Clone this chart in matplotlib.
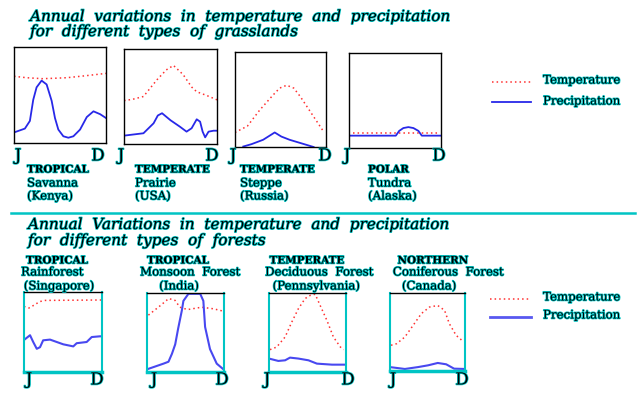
import matplotlib
matplotlib.use("Agg")
import matplotlib.pyplot as plt
import matplotlib.patheffects as pe

# ---- data (month position, % of box height) ----
savanna_temp_m = [1, 2.5, 4.4, 6, 7.3, 9.5, 12]
savanna_temp_v = [69.5, 68, 67, 67.5, 68, 70, 72.5]
savanna_rain_m = [1, 2.3, 2.9, 3.3, 3.7, 4.3, 4.9, 5.5, 5.9, 6.3, 6.9, 7.5, 8.1, 8.9, 9.7, 10.5, 11.3, 12]
savanna_rain_v = [11, 15, 23, 45, 58, 65, 61, 44, 26, 14, 7, 5.5, 7, 14, 27, 33, 30, 26]

prairie_temp_m = [1, 2, 3.3, 4.9, 6, 6.85, 8.0, 9.0, 9.6, 10.8, 12]
prairie_temp_v = [45.7, 47, 50, 67.6, 78, 82.7, 73, 60, 55, 51, 46.5]
prairie_rain_m = [1, 3.3, 4.5, 5.0, 5.5, 6.5, 7.6, 8.4, 9.0, 9.6, 10.0, 10.3, 10.6, 11.0, 11.6, 12]
prairie_rain_v = [8.8, 11.3, 21.8, 30, 32.4, 25, 18.3, 13, 16.6, 26, 23.5, 13, 7, 13, 14, 14]

steppe_temp_m = [1, 2.5, 4.0, 5.6, 6.4, 7.25, 8.1, 8.9, 10.5, 11.7]
steppe_temp_v = [15.3, 22, 39, 54.7, 62, 65, 62, 53, 32, 16.3]
steppe_rain_m = [2, 3, 4.4, 5.8, 6.6, 7.6, 10.5]
steppe_rain_v = [0.5, 3, 7.6, 15.3, 11, 7.6, 0]

tundra_temp_m = [1.5, 3, 5, 7, 9, 11.6]
tundra_temp_v = [16, 16, 16, 16, 16, 16]
tundra_rain_m = [1, 6.6, 7.0, 7.5, 8.1, 8.7, 9.3, 9.7, 12]
tundra_rain_v = [13, 13, 18, 21, 22, 21, 18, 13, 13]

rainforest_temp_m = [1, 1.7, 2.5, 3.2, 4, 12]
rainforest_temp_v = [82, 80, 84, 88, 89.5, 90]
rainforest_rain_m = [1, 1.85, 2.3, 2.8, 3.26, 3.7, 4.67, 6.54, 7.95, 8.43, 9.84, 10.55, 11.7, 12]
rainforest_rain_v = [40, 46, 37.5, 29, 31, 39.6, 40.5, 34.6, 32, 36, 37.5, 43.7, 44.6, 44.6]

monsoon_temp_m = [1.2, 2.9, 4.1, 5.0, 5.7, 6.8, 8.8, 10.5, 11.9]
monsoon_temp_v = [72, 84, 93, 90.7, 82, 79, 82, 80, 77]
monsoon_rain_m = [1.2, 3.36, 4.07, 4.56, 5.03, 5.45, 5.98, 6.2, 6.92, 8.6, 9.05, 9.3, 10.0, 10.96, 11.9]
monsoon_rain_v = [4, 10.6, 13, 23, 35, 55, 78, 90, 99, 99, 90, 57, 29, 10.6, 3.5]

deciduous_temp_m = [1.14, 2.1, 3.3, 4.26, 5.2, 6.16, 6.9, 7.6, 8.3, 9.27, 10.2, 11.2, 11.66]
deciduous_temp_v = [28.3, 31.6, 44.3, 63.3, 80.2, 93, 97, 98.4, 84.4, 65.4, 44.3, 31.6, 28.3]
deciduous_rain_m = [1, 2.33, 3.3, 4.0, 5.2, 6.64, 7.84, 10.0, 12]
deciduous_rain_v = [17, 14, 14.8, 18.2, 17, 14.8, 10.6, 9.3, 9.3]

coniferous_temp_m = [1.15, 1.97, 3.18, 4.39, 5.6, 6.8, 8.0, 9.0, 9.7, 10.7, 11.65]
coniferous_temp_v = [33, 35, 43.6, 58.5, 73.6, 82, 84, 77.8, 60.7, 45.7, 38.5]
coniferous_rain_m = [1, 3.18, 5.1, 6.6, 8.0, 9.24, 10.4, 12]
coniferous_rain_v = [5, 2.6, 5, 7.3, 10.3, 8.6, 3, 2.6]

grass_labels = [("TROPICAL", "Savanna", "(Kenya)"),
                ("TEMPERATE", "Prairie", "(USA)"),
                ("TEMPERATE", "Steppe", "(Russia)"),
                ("POLAR", "Tundra", "(Alaska)")]
forest_labels = [("TROPICAL", "Rainforest", "(Singapore)"),
                 ("TROPICAL", "Monsoon  Forest", "(India)"),
                 ("TEMPERATE", "Deciduous  Forest", "(Pennsylvania)"),
                 ("NORTHERN", "Coniferous  Forest", "(Canada)")]

W, H = 640, 395
CYAN = "#00c4c4"
RED = "#ff3030"
BLUE = "#2828e8"
glow = [pe.withStroke(linewidth=1.1, foreground=CYAN)]

fig = plt.figure(figsize=(6.4, 3.95), dpi=100)
fig.patch.set_facecolor("white")


def px_text(x, y, s, **kw):
    kw.setdefault("color", "black")
    kw.setdefault("path_effects", glow)
    fig.text(x / W, 1 - y / H, s, va="center", **kw)


def panel(box, tm, tv, rm, rv, blue=BLUE, lw=1.3, lower=False):
    x0, y0, x1, y1 = box
    ax = fig.add_axes([x0 / W, 1 - y1 / H, (x1 - x0) / W, (y1 - y0) / H])
    ax.plot(tm, tv, color=RED, lw=1.1, ls=(0, (1, 2)))
    ax.plot(rm, rv, color=blue, lw=lw)
    ax.set_xlim(1, 12)
    ax.set_ylim(0, 100)
    ax.set_xticks([])
    ax.set_yticks([])
    for s in ax.spines.values():
        s.set_color("black")
        s.set_linewidth(1)
    if lower:
        ax.spines["bottom"].set_color(CYAN)
        ax.spines["bottom"].set_linewidth(2.5)
        ax.spines["left"].set_color(CYAN)
        ax.spines["right"].set_color(CYAN)
        ax.spines["left"].set_linewidth(1.5)
        ax.spines["right"].set_linewidth(1.5)
    return ax


# ---- grasslands ----
tfont = dict(family="DejaVu Serif", style="italic", fontsize=11)
px_text(30, 17, "Annual  variations  in  temperature  and  precipitation", **tfont)
px_text(30, 32, "for  different  types  of  grasslands", **tfont)

upper = [(14, 47, 106, 143), (124, 49, 217, 144), (235, 52, 326, 147), (349, 53, 441, 148)]
upper_data = [(savanna_temp_m, savanna_temp_v, savanna_rain_m, savanna_rain_v),
              (prairie_temp_m, prairie_temp_v, prairie_rain_m, prairie_rain_v),
              (steppe_temp_m, steppe_temp_v, steppe_rain_m, steppe_rain_v),
              (tundra_temp_m, tundra_temp_v, tundra_rain_m, tundra_rain_v)]
jd_x = [(18, 98), (121, 212), (233, 325), (347, 439)]
lab_x = [27, 135, 240, 368]
for box, d, (jx, dx), lx, lab in zip(upper, upper_data, jd_x, lab_x, grass_labels):
    panel(box, *d)
    px_text(jx, 156, "J", family="DejaVu Serif", fontsize=12, ha="center")
    px_text(dx, 156, "D", family="DejaVu Serif", fontsize=12, ha="center")
    px_text(lx, 170, lab[0], family="DejaVu Serif", fontsize=7.5, weight="bold", ha="left")
    px_text(lx, 183, lab[1], family="DejaVu Serif", fontsize=8.5, ha="left")
    px_text(lx, 196, lab[2], family="DejaVu Serif", fontsize=8.5, ha="left")

# legend (upper)
fig.add_artist(plt.Line2D([492 / W, 531 / W], [1 - 82 / H] * 2, color=RED, lw=1.1, ls=(0, (1, 2))))
fig.add_artist(plt.Line2D([492 / W, 531 / W], [1 - 102 / H] * 2, color=BLUE, lw=1.3))
px_text(543, 80, "Temperature", family="DejaVu Serif", fontsize=8.5)
px_text(543, 101, "Precipitation", family="DejaVu Serif", fontsize=8.5)

# separator
fig.add_artist(plt.Line2D([11 / W, 635 / W], [1 - 212.5 / H] * 2, color=CYAN, lw=1.8))

# ---- forests ----
px_text(28, 225, "Annual  Variations  in  temperature  and  precipitation", **tfont)
px_text(28, 241, "for  different  types  of  forests", **tfont)

lower = [(24, 292, 102, 372), (147, 293, 224, 372), (269, 293, 346, 372), (390, 293, 465, 371)]
lower_data = [(rainforest_temp_m, rainforest_temp_v, rainforest_rain_m, rainforest_rain_v),
              (monsoon_temp_m, monsoon_temp_v, monsoon_rain_m, monsoon_rain_v),
              (deciduous_temp_m, deciduous_temp_v, deciduous_rain_m, deciduous_rain_v),
              (coniferous_temp_m, coniferous_temp_v, coniferous_rain_m, coniferous_rain_v)]
jd_x2 = [(29, 97), (154, 222), (267, 348), (393, 462)]
cx = [(57, 52, 59), (178, 190, 179), (307, 319, 316), (433, 448, 429)]
for box, d, (jx, dx), c, lab in zip(lower, lower_data, jd_x2, cx, forest_labels):
    panel(box, *d, blue="#4848f0", lw=1.5, lower=True)
    px_text(jx, 380, "J", family="DejaVu Serif", fontsize=12, ha="center")
    px_text(dx, 380, "D", family="DejaVu Serif", fontsize=12, ha="center")
    px_text(c[0], 261, lab[0], family="DejaVu Serif", fontsize=7.5, weight="bold", ha="center")
    px_text(c[1], 272, lab[1], family="DejaVu Serif", fontsize=8.5, ha="center")
    px_text(c[2], 286, lab[2], family="DejaVu Serif", fontsize=8.5, ha="center")

# legend (lower)
fig.add_artist(plt.Line2D([490 / W, 531 / W], [1 - 299 / H] * 2, color=RED, lw=1.1, ls=(0, (1, 2))))
fig.add_artist(plt.Line2D([490 / W, 531 / W], [1 - 317 / H] * 2, color="#5858f0", lw=2))
px_text(543, 297, "Temperature", family="DejaVu Serif", fontsize=8.5)
px_text(543, 315, "Precipitation", family="DejaVu Serif", fontsize=8.5)

fig.savefig("out.png", dpi=100, facecolor="white")
